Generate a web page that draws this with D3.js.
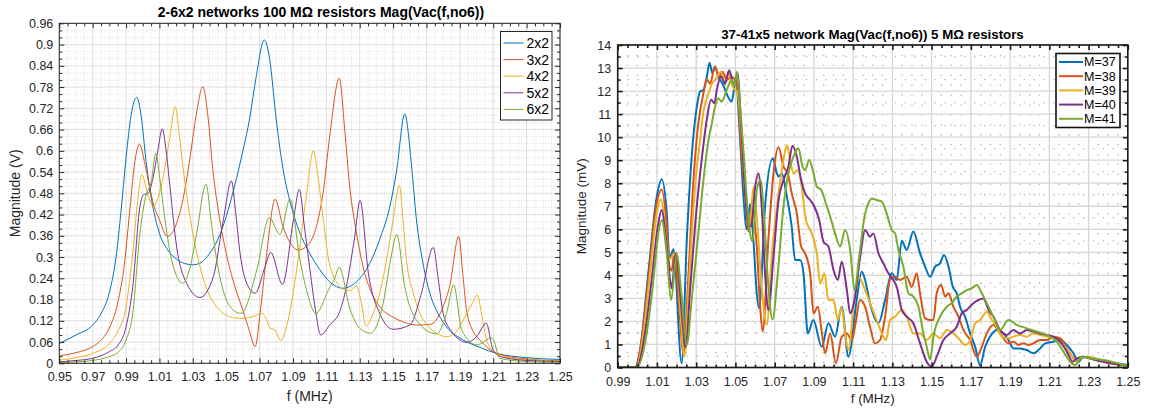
<!DOCTYPE html>
<html>
<head>
<meta charset="utf-8">
<script src="https://cdn.jsdelivr.net/npm/d3@7/dist/d3.min.js"></script>
<style>
  body { margin: 0; background: #fff; }
  svg { font-family: "Liberation Sans", Arial, Helvetica, sans-serif; }
</style>
</head>
<body>
<svg id="chart" width="1152" height="412"></svg>
<script>
// ---- data ----
const colors = ["#0072BD", "#D95319", "#EDB120", "#7E2F8E", "#77AC30"];

// left panel: 2-6x2 networks, f (MHz) vs magnitude (V)
const leftNames = ["2x2", "3x2", "4x2", "5x2", "6x2"];
const leftXTicks = [0.95, 0.97, 0.99, 1.01, 1.03, 1.05, 1.07, 1.09, 1.11, 1.13, 1.15, 1.17, 1.19, 1.21, 1.23, 1.25];
const leftYTicks = [0, 0.06, 0.12, 0.18, 0.24, 0.3, 0.36, 0.42, 0.48, 0.54, 0.6, 0.66, 0.72, 0.78, 0.84, 0.9, 0.96];

const net2x2 = [[0.95,0.056],[0.96,0.08],[0.97,0.108],[0.975,0.14],[0.98,0.2],[0.984,0.3],[0.987,0.43],[0.990,0.58],[0.993,0.7],[0.9964,0.751],[0.999,0.7],[1.002,0.57],[1.005,0.47],[1.01,0.367],[1.015,0.32],[1.02,0.295],[1.025,0.282],[1.03,0.278],[1.035,0.285],[1.04,0.31],[1.045,0.35],[1.05,0.414],[1.055,0.5],[1.06,0.6],[1.064,0.69],[1.068,0.81],[1.0728,0.913],[1.076,0.86],[1.08,0.687],[1.084,0.55],[1.088,0.461],[1.094,0.37],[1.1,0.311],[1.106,0.265],[1.112,0.23],[1.12,0.212],[1.128,0.23],[1.136,0.282],[1.142,0.35],[1.148,0.442],[1.152,0.54],[1.157,0.704],[1.161,0.56],[1.164,0.405],[1.168,0.28],[1.172,0.198],[1.177,0.14],[1.182,0.103],[1.192,0.066],[1.202,0.045],[1.212,0.028],[1.23,0.016],[1.25,0.011]];
const net3x2 = [[0.95,0.021],[0.96,0.03],[0.97,0.047],[0.975,0.065],[0.98,0.1],[0.985,0.17],[0.989,0.28],[0.992,0.42],[0.995,0.56],[0.998,0.619],[1.001,0.57],[1.004,0.499],[1.007,0.44],[1.01,0.405],[1.0147,0.358],[1.019,0.38],[1.024,0.461],[1.028,0.57],[1.032,0.7],[1.036,0.781],[1.039,0.7],[1.042,0.546],[1.046,0.41],[1.05,0.311],[1.055,0.22],[1.06,0.15],[1.064,0.09],[1.0673,0.047],[1.0705,0.15],[1.0743,0.311],[1.0793,0.463],[1.084,0.386],[1.0932,0.32],[1.1,0.34],[1.104,0.386],[1.108,0.48],[1.112,0.64],[1.1178,0.805],[1.121,0.66],[1.124,0.499],[1.128,0.37],[1.132,0.273],[1.137,0.2],[1.142,0.16],[1.15,0.13],[1.156,0.117],[1.164,0.108],[1.172,0.11],[1.177,0.13],[1.18,0.16],[1.184,0.22],[1.1893,0.358],[1.192,0.24],[1.194,0.15],[1.198,0.09],[1.202,0.066],[1.212,0.028],[1.23,0.012],[1.25,0.007]];
const net4x2 = [[0.95,0.009],[0.96,0.016],[0.97,0.028],[0.98,0.056],[0.985,0.09],[0.99,0.16],[0.994,0.311],[0.997,0.46],[0.9994,0.532],[1.0034,0.47],[1.0063,0.442],[1.0093,0.47],[1.0123,0.527],[1.0163,0.64],[1.0195,0.725],[1.022,0.64],[1.0243,0.546],[1.03,0.367],[1.035,0.26],[1.0403,0.188],[1.045,0.155],[1.05,0.136],[1.055,0.128],[1.06,0.127],[1.066,0.132],[1.0713,0.141],[1.0745,0.12],[1.0762,0.099],[1.0792,0.094],[1.0827,0.064],[1.087,0.12],[1.0922,0.263],[1.0982,0.48],[1.1022,0.6],[1.1052,0.52],[1.1082,0.405],[1.112,0.278],[1.12,0.21],[1.1245,0.205],[1.128,0.219],[1.131,0.17],[1.1338,0.105],[1.138,0.14],[1.142,0.198],[1.146,0.29],[1.15,0.405],[1.1538,0.502],[1.156,0.4],[1.158,0.292],[1.162,0.2],[1.166,0.142],[1.172,0.1],[1.178,0.08],[1.182,0.075],[1.187,0.085],[1.192,0.122],[1.197,0.165],[1.2005,0.193],[1.203,0.14],[1.206,0.066],[1.21,0.035],[1.214,0.023],[1.23,0.01],[1.25,0.006]];
const net5x2 = [[0.95,0.004],[0.96,0.008],[0.97,0.014],[0.98,0.033],[0.985,0.05],[0.99,0.103],[0.994,0.216],[0.9983,0.442],[1.0003,0.475],[1.0033,0.48],[1.006,0.52],[1.009,0.6],[1.0117,0.662],[1.014,0.6],[1.0163,0.499],[1.0203,0.329],[1.0263,0.226],[1.0343,0.186],[1.0423,0.245],[1.0483,0.405],[1.0531,0.515],[1.0558,0.42],[1.0583,0.311],[1.0623,0.226],[1.0673,0.198],[1.0733,0.273],[1.0767,0.313],[1.0837,0.223],[1.0903,0.405],[1.0938,0.491],[1.097,0.38],[1.1002,0.263],[1.1035,0.15],[1.1066,0.08],[1.112,0.108],[1.118,0.146],[1.122,0.216],[1.127,0.358],[1.1302,0.46],[1.1352,0.254],[1.142,0.141],[1.15,0.096],[1.16,0.108],[1.167,0.198],[1.1741,0.327],[1.177,0.24],[1.18,0.141],[1.185,0.09],[1.19,0.066],[1.194,0.059],[1.2,0.075],[1.2058,0.113],[1.21,0.037],[1.215,0.018],[1.23,0.008],[1.25,0.005]];
const net6x2 = [[0.95,0.002],[0.96,0.004],[0.97,0.008],[0.98,0.019],[0.985,0.03],[0.99,0.066],[0.994,0.141],[0.9983,0.367],[1.0013,0.461],[1.0053,0.518],[1.0078,0.593],[1.01,0.53],[1.0123,0.442],[1.0173,0.292],[1.024,0.226],[1.0283,0.27],[1.0323,0.367],[1.0379,0.506],[1.041,0.4],[1.0443,0.292],[1.0523,0.16],[1.0589,0.141],[1.0683,0.263],[1.0758,0.411],[1.0822,0.364],[1.0882,0.464],[1.0942,0.292],[1.0985,0.2],[1.1036,0.141],[1.1122,0.216],[1.115,0.24],[1.1176,0.271],[1.1244,0.15],[1.13,0.099],[1.1366,0.085],[1.144,0.169],[1.1492,0.311],[1.1522,0.364],[1.157,0.216],[1.164,0.122],[1.176,0.083],[1.182,0.141],[1.1863,0.221],[1.1911,0.094],[1.2001,0.052],[1.2094,0.072],[1.214,0.014],[1.23,0.005],[1.25,0.003]];

// right panel: 37-41x5 network, f (MHz) vs magnitude (mV)
const rightNames = ["M=37", "M=38", "M=39", "M=40", "M=41"];
const rightXTicks = [0.99, 1.01, 1.03, 1.05, 1.07, 1.09, 1.11, 1.13, 1.15, 1.17, 1.19, 1.21, 1.23, 1.25];
const rightYTicks = [0, 1, 2, 3, 4, 5, 6, 7, 8, 9, 10, 11, 12, 13, 14];

const m37 = [[0.99,0],[0.9988,0],[1.0014,0.76],[1.0056,4.1],[1.0099,7.4],[1.0124,8.17],[1.015,6.7],[1.0164,4.7],[1.0184,5.13],[1.0226,0.18],[1.0252,5.5],[1.0277,9.15],[1.0303,11.3],[1.032,11.98],[1.0337,12.05],[1.0354,12.6],[1.0368,13.23],[1.0383,12.77],[1.0396,13.06],[1.0413,12.63],[1.0434,12.32],[1.0481,11.54],[1.0502,12.48],[1.0524,9.88],[1.0541,7.42],[1.0558,6.0],[1.0575,7.1],[1.0592,5.5],[1.0609,3.2],[1.0621,2.57],[1.0651,6.98],[1.0691,9.08],[1.0711,8.43],[1.072,8.29],[1.0736,8.43],[1.0762,7.42],[1.0787,6.11],[1.0804,4.67],[1.083,4.67],[1.0847,4.09],[1.0869,1.48],[1.0897,2.06],[1.094,0.9],[1.0974,1.92],[1.1008,1.34],[1.1042,2.64],[1.1076,0.47],[1.1118,2.93],[1.1144,4.16],[1.1161,3.8],[1.1186,2.79],[1.1229,1.92],[1.1263,2.93],[1.1297,4.09],[1.1322,3.8],[1.1348,5.5],[1.1373,5.1],[1.1407,5.9],[1.1441,4.96],[1.1467,4.38],[1.1492,3.94],[1.1518,4.38],[1.1543,4.52],[1.1563,4.88],[1.1586,4.38],[1.1608,3.5],[1.1628,3.22],[1.1645,2.64],[1.1671,2.2],[1.1696,1.48],[1.1722,0.9],[1.1747,0.1],[1.1773,0.9],[1.1798,1.34],[1.1832,1.63],[1.1866,1.48],[1.1892,1.19],[1.1917,0.83],[1.1951,0.83],[1.1985,0.76],[1.2019,0.62],[1.2053,0.83],[1.2079,1.05],[1.2121,1.12],[1.2155,1.19],[1.2189,0.98],[1.2223,0.62],[1.2249,0.25],[1.2266,0.4],[1.2291,0.47],[1.2325,0.4],[1.2393,0.25],[1.25,0.11]];
const m38 = [[0.99,0],[0.9992,0],[1.0022,1.19],[1.0056,3.8],[1.0099,7.13],[1.0124,7.73],[1.015,6.11],[1.0164,4.38],[1.0175,4.2],[1.0189,5.0],[1.0213,2.64],[1.0235,0.62],[1.0261,4.09],[1.0286,8.14],[1.0311,10.6],[1.0337,11.9],[1.0354,12.51],[1.0371,12.32],[1.0396,13.06],[1.0417,12.63],[1.0434,12.84],[1.0456,12.48],[1.0478,12.63],[1.0507,12.32],[1.0532,9.15],[1.0555,6.98],[1.0566,5.9],[1.0584,6.9],[1.0609,5.25],[1.0626,2.64],[1.0639,1.56],[1.0668,5.54],[1.0694,8.43],[1.072,9.56],[1.0745,8.72],[1.0767,8.43],[1.0787,7.56],[1.0813,6.69],[1.0835,5.25],[1.0855,4.96],[1.0881,4.09],[1.0898,2.35],[1.092,2.64],[1.0941,1.48],[1.0957,0.62],[1.0983,1.48],[1.1012,0.18],[1.1042,1.34],[1.1068,1.48],[1.1093,1.19],[1.1112,1.9],[1.1135,2.93],[1.1161,2.64],[1.1186,1.77],[1.1212,1.05],[1.1237,1.19],[1.1263,2.2],[1.1288,3.8],[1.1314,3.94],[1.1339,3.8],[1.1373,3.94],[1.1399,3.5],[1.1424,4.09],[1.1441,3.22],[1.1467,2.13],[1.1492,2.06],[1.1509,2.06],[1.1526,3.22],[1.1548,3.58],[1.1569,3.08],[1.1586,3.22],[1.1611,2.64],[1.1637,2.2],[1.1662,1.63],[1.1696,1.19],[1.173,0.47],[1.1756,0.9],[1.1781,1.48],[1.1815,1.85],[1.1849,1.48],[1.1892,1.05],[1.1917,1.12],[1.1943,0.98],[1.1968,1.05],[1.1994,0.98],[1.2019,1.05],[1.2053,1.19],[1.2087,1.19],[1.2121,1.34],[1.2155,1.27],[1.2189,0.83],[1.2223,0.4],[1.224,0.25],[1.2266,0.47],[1.2308,0.4],[1.2393,0.21],[1.25,0.07]];
const m39 = [[0.99,0],[0.9997,0],[1.0031,1.48],[1.0065,4.09],[1.0099,6.69],[1.0121,7.3],[1.0145,5.82],[1.0162,4.67],[1.0175,4.81],[1.0198,4.96],[1.0218,2.64],[1.024,0.47],[1.0264,3.8],[1.0294,7.85],[1.032,9.88],[1.0337,11.11],[1.0363,11.9],[1.038,12.32],[1.0396,12.48],[1.0427,12.84],[1.0447,12.32],[1.0464,12.77],[1.0485,12.2],[1.0512,11.9],[1.0532,9.88],[1.0558,6.69],[1.0575,6.3],[1.0592,7.85],[1.0609,6.5],[1.0634,3.5],[1.066,1.85],[1.0685,4.81],[1.072,7.56],[1.0745,9.0],[1.0762,9.66],[1.0779,9.01],[1.0796,8.43],[1.0818,8.57],[1.0838,7.85],[1.0859,6.4],[1.0889,5.82],[1.0915,4.96],[1.0932,3.65],[1.0954,4.09],[1.0974,2.93],[1.1,2.93],[1.1022,2.06],[1.1042,2.6],[1.1059,1.48],[1.1076,0.76],[1.1102,2.64],[1.1127,3.94],[1.1161,3.36],[1.1186,2.79],[1.122,2.06],[1.1246,1.48],[1.1268,1.19],[1.1288,2.06],[1.1314,2.21],[1.1348,2.5],[1.1373,2.21],[1.1407,1.48],[1.1441,1.48],[1.1475,1.19],[1.1509,1.48],[1.1543,1.27],[1.1577,1.63],[1.1611,1.48],[1.1645,1.19],[1.1671,0.98],[1.1696,1.19],[1.1722,1.92],[1.1747,2.06],[1.1781,2.42],[1.1807,2.06],[1.1832,1.77],[1.1858,1.34],[1.1892,1.27],[1.1917,1.34],[1.1951,1.41],[1.1985,1.34],[1.2019,1.48],[1.2053,1.41],[1.2087,1.34],[1.2121,1.27],[1.2172,0.98],[1.2206,0.62],[1.2237,0.25],[1.2257,0.4],[1.2291,0.47],[1.2359,0.33],[1.25,0.07]];
const m40 = [[0.99,0],[0.9997,0],[1.0039,1.48],[1.0073,3.8],[1.0104,6.11],[1.0124,6.84],[1.0145,5.68],[1.0167,3.8],[1.0175,3.44],[1.0196,4.96],[1.0218,3.22],[1.0247,0.9],[1.0269,3.36],[1.0303,6.98],[1.0328,9.01],[1.0354,10.75],[1.0376,11.62],[1.0393,11.47],[1.0405,12.05],[1.0427,12.63],[1.0447,12.32],[1.0468,12.9],[1.049,12.32],[1.0512,12.77],[1.0524,11.32],[1.0541,8.7],[1.0558,6.69],[1.058,6.11],[1.0601,7.85],[1.0617,8.43],[1.0634,6.98],[1.0651,4.09],[1.0668,2.5],[1.0694,4.81],[1.072,7.27],[1.0745,8.14],[1.077,8.72],[1.0791,9.63],[1.0813,9.15],[1.0835,8.14],[1.0855,7.56],[1.0881,7.27],[1.0903,6.98],[1.0927,6.4],[1.0949,5.46],[1.0974,5.25],[1.1,4.23],[1.1022,3.8],[1.1042,4.59],[1.1068,3.36],[1.1085,2.35],[1.1107,2.93],[1.1136,4.81],[1.1161,5.97],[1.1186,5.68],[1.1203,5.82],[1.1229,4.96],[1.1254,4.52],[1.128,4.09],[1.1305,3.8],[1.1322,3.51],[1.1348,2.5],[1.1373,2.21],[1.1407,1.92],[1.1441,1.05],[1.1475,0.25],[1.1501,0.04],[1.1526,0.47],[1.156,1.19],[1.1594,1.48],[1.1628,1.77],[1.1654,2.35],[1.1679,2.5],[1.1713,2.79],[1.1739,2.93],[1.1764,3.0],[1.179,2.5],[1.1815,2.21],[1.1849,1.63],[1.1883,1.41],[1.1917,1.63],[1.1951,1.48],[1.1985,1.63],[1.2019,1.56],[1.2053,1.48],[1.2087,1.41],[1.2121,1.34],[1.2155,1.12],[1.2189,0.69],[1.222,0.25],[1.224,0.4],[1.2274,0.47],[1.2325,0.35],[1.25,0.07]];
const m41 = [[0.99,0],[0.9997,0],[1.0048,1.48],[1.0082,3.8],[1.0107,5.82],[1.0124,6.4],[1.015,4.96],[1.0172,2.93],[1.0201,4.96],[1.0223,3.36],[1.0252,0.98],[1.0277,2.93],[1.0311,5.82],[1.0337,8.14],[1.0363,9.88],[1.038,10.6],[1.0396,11.32],[1.0413,11.69],[1.043,11.54],[1.0456,12.05],[1.0481,12.48],[1.0495,12.25],[1.0507,12.84],[1.0524,11.32],[1.0541,9.44],[1.0558,7.27],[1.0575,5.82],[1.0587,5.46],[1.0609,7.71],[1.0628,8.14],[1.0648,6.26],[1.0668,3.51],[1.0689,2.09],[1.0716,4.09],[1.0745,6.98],[1.077,8.43],[1.0796,9.15],[1.0821,9.52],[1.0842,8.72],[1.0855,8.57],[1.0876,9.01],[1.0898,8.43],[1.0915,7.85],[1.0937,7.71],[1.0961,7.13],[1.0983,6.55],[1.1008,5.82],[1.1034,5.25],[1.1059,5.97],[1.1085,5.1],[1.1107,3.36],[1.1131,4.81],[1.1158,6.55],[1.1187,7.27],[1.1195,7.34],[1.122,7.27],[1.1246,7.2],[1.1271,6.69],[1.1297,5.97],[1.1314,5.82],[1.1331,5.1],[1.1356,4.38],[1.1382,3.22],[1.1407,3.08],[1.1433,2.64],[1.1458,1.48],[1.1475,0.9],[1.1492,0.35],[1.1512,1.48],[1.1543,2.21],[1.1577,2.64],[1.1603,2.79],[1.1628,3.08],[1.1654,3.22],[1.1679,3.36],[1.1705,3.44],[1.173,3.58],[1.1756,3.22],[1.1781,2.79],[1.1815,2.21],[1.1849,1.63],[1.1892,2.06],[1.1934,1.85],[1.1985,1.7],[1.2036,1.56],[1.2087,1.41],[1.2138,1.12],[1.2172,0.69],[1.2206,0.25],[1.2232,0.11],[1.2266,0.47],[1.2308,0.4],[1.2393,0.3],[1.25,0.04]];

const svg = d3.select("#chart");

function minorValues(lo, hi, step, majors) {
  const out = [];
  const n = Math.round((hi - lo) / step);
  for (let i = 0; i <= n; i++) {
    const v = +(lo + i * step).toFixed(6);
    if (!majors.some(m => Math.abs(m - v) < 1e-7)) out.push(v);
  }
  return out;
}

function drawPanel(o) {
  const g = svg.append("g");
  const x = d3.scaleLinear().domain([o.xTicks[0], o.xTicks[o.xTicks.length - 1]]).range([o.x0, o.x1]);
  const y = d3.scaleLinear().domain([o.yTicks[0], o.yTicks[o.yTicks.length - 1]]).range([o.y1, o.y0]);
  const xMinor = minorValues(x.domain()[0], x.domain()[1], o.xMinorStep, o.xTicks);
  const yMinor = minorValues(y.domain()[0], y.domain()[1], o.yMinorStep, o.yTicks);

  // minor grid
  g.append("g").selectAll("line").data(xMinor).join("line")
    .attr("x1", d => x(d)).attr("x2", d => x(d)).attr("y1", o.y0).attr("y2", o.y1)
    .attr("stroke", o.minorColor).attr("stroke-width", o.minorWidth).attr("stroke-dasharray", o.minorDash);
  g.append("g").selectAll("line").data(yMinor).join("line")
    .attr("y1", d => y(d)).attr("y2", d => y(d)).attr("x1", o.x0).attr("x2", o.x1)
    .attr("stroke", o.minorColor).attr("stroke-width", o.minorWidth).attr("stroke-dasharray", o.minorDash);
  // major grid
  g.append("g").selectAll("line").data(o.xTicks).join("line")
    .attr("x1", d => x(d)).attr("x2", d => x(d)).attr("y1", o.y0).attr("y2", o.y1)
    .attr("stroke", o.gridColor).attr("stroke-width", o.gridWidth);
  g.append("g").selectAll("line").data(o.yTicks).join("line")
    .attr("y1", d => y(d)).attr("y2", d => y(d)).attr("x1", o.x0).attr("x2", o.x1)
    .attr("stroke", o.gridColor).attr("stroke-width", o.gridWidth);

  // series
  const clipId = "clip" + o.id;
  svg.append("clipPath").attr("id", clipId).append("rect")
    .attr("x", o.x0).attr("y", o.y0).attr("width", o.x1 - o.x0).attr("height", o.y1 - o.y0);
  const line = d3.line().x(d => x(d[0])).y(d => y(d[1])).curve(d3.curveMonotoneX);
  g.append("g").attr("clip-path", `url(#${clipId})`)
    .selectAll("path").data(o.series).join("path")
    .attr("d", d => line(d)).attr("fill", "none")
    .attr("stroke", (d, i) => colors[i]).attr("stroke-width", o.lineWidth)
    .attr("stroke-linejoin", "round");

  // axes with inward ticks (major + minor), all four sides
  const fmt = v => String(+v.toFixed(2));
  const axes = [
    [d3.axisBottom(x), o.y1, true, o.xTicks, xMinor, "x"],
    [d3.axisTop(x), o.y0, false, o.xTicks, xMinor, "x"],
    [d3.axisLeft(y), o.x0, true, o.yTicks, yMinor, "y"],
    [d3.axisRight(y), o.x1, false, o.yTicks, yMinor, "y"]
  ];
  axes.forEach(([ax, pos, labels, majors, minors, dir]) => {
    const tr = dir === "x" ? `translate(0,${pos})` : `translate(${pos},0)`;
    const pad = dir === "x" ? o.xTickPad : o.yTickPad;
    const major = g.append("g").attr("transform", tr)
      .call(ax.tickValues(majors).tickSize(-o.tickLen).tickPadding(pad).tickFormat(labels ? fmt : ""));
    major.select(".domain").remove();
    major.selectAll(".tick line").attr("stroke", o.axisColor).attr("stroke-width", o.axisWidth);
    major.selectAll(".tick text").attr("fill", o.textColor).attr("font-size", o.tickFont);
    const minor = g.append("g").attr("transform", tr)
      .call(ax.tickValues(minors).tickSize(-o.minorTickLen).tickFormat(""));
    minor.select(".domain").remove();
    minor.selectAll(".tick line").attr("stroke", o.axisColor).attr("stroke-width", o.axisWidth);
  });

  // frame
  g.append("rect").attr("x", o.x0).attr("y", o.y0)
    .attr("width", o.x1 - o.x0).attr("height", o.y1 - o.y0)
    .attr("fill", "none").attr("stroke", o.axisColor).attr("stroke-width", o.axisWidth);

  // title and labels
  g.append("text").attr("x", o.titleX).attr("y", o.titleY).attr("text-anchor", "middle")
    .attr("font-weight", "bold").attr("font-size", o.titleFont).attr("fill", "#000").text(o.title);
  g.append("text").attr("x", (o.x0 + o.x1) / 2).attr("y", o.xLabelY).attr("text-anchor", "middle")
    .attr("font-size", o.labelFont).attr("fill", o.textColor).text("f (MHz)");
  g.append("text").attr("transform", `translate(${o.yLabelX},${(o.y0 + o.y1) / 2}) rotate(-90)`)
    .attr("text-anchor", "middle").attr("font-size", o.labelFont).attr("fill", o.textColor).text(o.yLabel);

  // legend
  const lg = g.append("g");
  lg.append("rect").attr("x", o.legend.x).attr("y", o.legend.y)
    .attr("width", o.legend.w).attr("height", o.legend.h)
    .attr("fill", "#fff").attr("stroke", o.legend.stroke).attr("stroke-width", o.legend.strokeWidth);
  o.names.forEach((name, i) => {
    const cy = o.legend.y + o.legend.first + i * o.legend.step;
    lg.append("line").attr("x1", o.legend.x + o.legend.lineX0).attr("x2", o.legend.x + o.legend.lineX1)
      .attr("y1", cy).attr("y2", cy).attr("stroke", colors[i]).attr("stroke-width", o.lineWidth);
    lg.append("text").attr("x", o.legend.x + o.legend.textX).attr("y", cy)
      .attr("dy", "0.35em").attr("font-size", o.legend.font).attr("fill", "#000").text(name);
  });
}

drawPanel({
  id: "L",
  x0: 59.3, x1: 560, y0: 23.3, y1: 363.3,
  xTicks: leftXTicks, yTicks: leftYTicks, xMinorStep: 0.005, yMinorStep: 0.02,
  series: [net2x2, net3x2, net4x2, net5x2, net6x2], names: leftNames,
  lineWidth: 1, gridColor: "#dedede", gridWidth: 1,
  minorColor: "#cfcfcf", minorWidth: 0.8, minorDash: "1,2",
  axisColor: "#262626", axisWidth: 1, textColor: "#262626",
  tickLen: 5, minorTickLen: 3, xTickPad: 9, yTickPad: 6, tickFont: 12.5,
  title: "2-6x2 networks 100 M\u03A9 resistors Mag(Vac(f,no6))", titleX: 321, titleY: 17, titleFont: 14,
  xLabelY: 401, yLabelX: 20, yLabel: "Magnitude (V)", labelFont: 14,
  legend: { x: 500.5, y: 31.5, w: 51.5, h: 88.5, first: 11.5, step: 16.6, lineX0: 3, lineX1: 23, textX: 26,
            font: 14, stroke: "#262626", strokeWidth: 1 }
});

drawPanel({
  id: "R",
  x0: 617.7, x1: 1127.8, y0: 45, y1: 367.5,
  xTicks: rightXTicks, yTicks: rightYTicks, xMinorStep: 0.005, yMinorStep: 0.5,
  series: [m37, m38, m39, m40, m41], names: rightNames,
  lineWidth: 2, gridColor: "#d6d6d6", gridWidth: 1.3,
  minorColor: "#b4b4b4", minorWidth: 1.3, minorDash: "1.3,8.6",
  axisColor: "#1a1a1a", axisWidth: 1.6, textColor: "#262626",
  tickLen: 5, minorTickLen: 3, xTickPad: 9.5, yTickPad: 6.5, tickFont: 12.5,
  title: "37-41x5 network Mag(Vac(f,no6)) 5 M\u03A9 resistors", titleX: 872.5, titleY: 39, titleFont: 13.3,
  xLabelY: 403, yLabelX: 586, yLabel: "Magnitude (mV)", labelFont: 13.5,
  legend: { x: 1056, y: 53.5, w: 64, h: 74, first: 8.5, step: 14.2, lineX0: 3, lineX1: 27, textX: 28,
            font: 12.5, stroke: "#111", strokeWidth: 1.6 }
});
</script>
</body>
</html>
